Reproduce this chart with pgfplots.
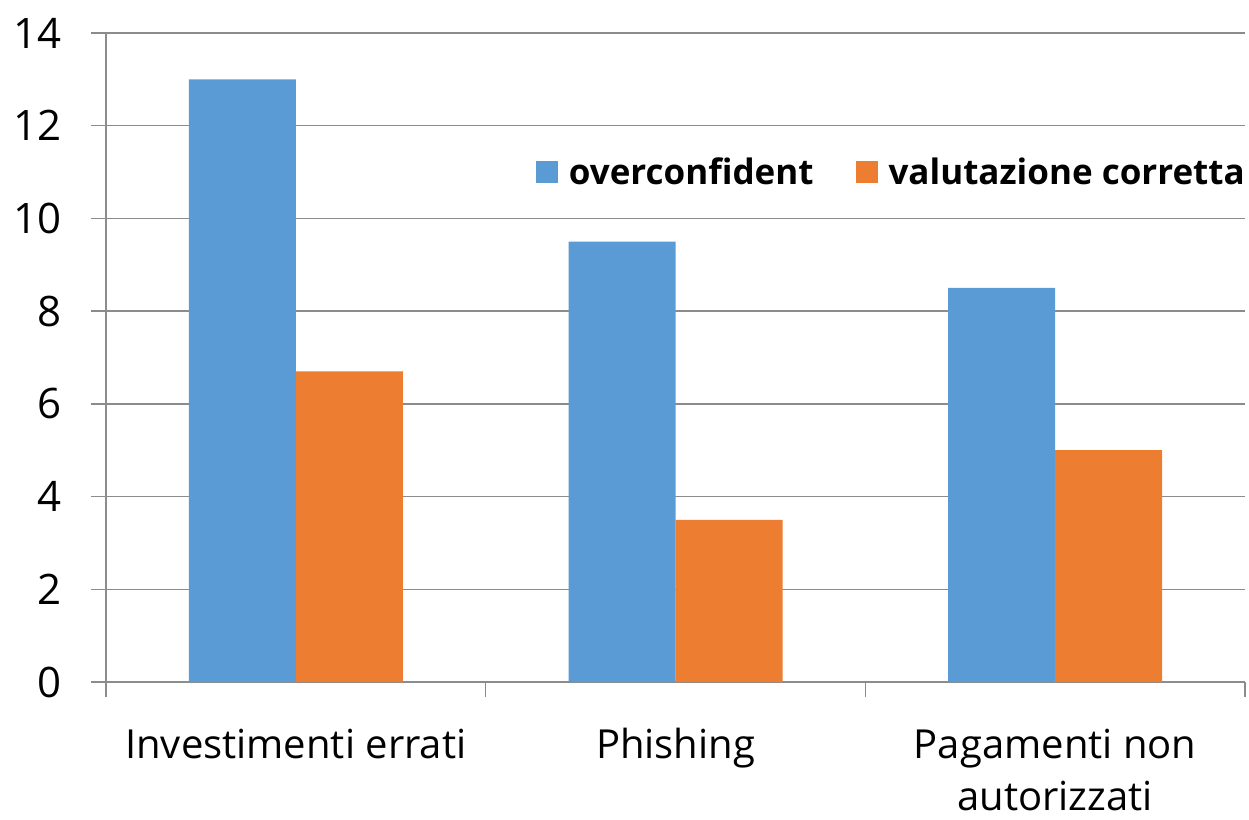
\documentclass[border=0pt]{standalone}
\usepackage{fontspec}
\setmainfont{Open Sans}
\usepackage{pgfplots}
\pgfplotsset{compat=1.18}
\definecolor{cblue}{HTML}{5B9BD5}
\definecolor{corange}{HTML}{ED7D31}
\definecolor{cgrid}{HTML}{8C8C8C}
\begin{document}
\begin{tikzpicture}
\useasboundingbox (-106bp,-138bp) rectangle (1143bp,682bp);
\begin{axis}[
  at={(0,0)}, anchor=south west,
  scale only axis, width=1139bp, height=649bp,
  xmin=-0.5, xmax=2.5, ymin=0, ymax=14,
  ytick={0,2,...,14},
  xtick={0,1,2},
  xticklabels={\vphantom{Ph}Investimenti errati, \vphantom{Ph}Phishing, {\vphantom{Ph}Pagamenti non\\autorizzati}},
  extra x ticks={-0.5,0.5,1.5,2.5},
  extra x tick labels={},
  extra x tick style={major tick length=15bp, grid=none},
  axis lines=left,
  axis line style={-, cgrid, line width=1.5bp},
  tick align=outside,
  major tick length=15bp,
  x tick style={draw=none},
  extra x tick style={x tick style={draw=cgrid, line width=1.5bp}},
  y tick style={cgrid, line width=1.5bp},
  ymajorgrids,
  grid style={cgrid, line width=1.5bp},
  /pgf/number format/assume math mode=true,
  yticklabel style={font=\fontsize{42bp}{53bp}\selectfont, anchor=east, inner sep=0pt, xshift=-29bp},
  xticklabel style={font=\fontsize{40bp}{52bp}\selectfont, anchor=north, align=center, inner sep=0pt, yshift=-31bp},
  legend columns=2,
  legend style={at={(1,0.786)}, anchor=east, draw=none, fill=none, inner sep=0pt,
    font=\bfseries\fontsize{35bp}{40bp}\selectfont,
    nodes={inner sep=0pt},
    /tikz/every odd column/.append style={column sep=11bp},
    /tikz/every even column/.append style={column sep=42bp}},
  legend image code/.code={\fill[#1] (0bp,-11bp) rectangle (22bp,11bp);},
]
\addplot[ybar, fill=cblue, draw=none, bar width=107bp, bar shift=-53.5bp] coordinates {(0,13) (1,9.5) (2,8.5)};
\addlegendentry{overconfident}
\addplot[ybar, fill=corange, draw=none, bar width=107bp, bar shift=53.5bp] coordinates {(0,6.7) (1,3.5) (2,5)};
\addlegendentry{valutazione corretta}
\end{axis}
\end{tikzpicture}
\end{document}
